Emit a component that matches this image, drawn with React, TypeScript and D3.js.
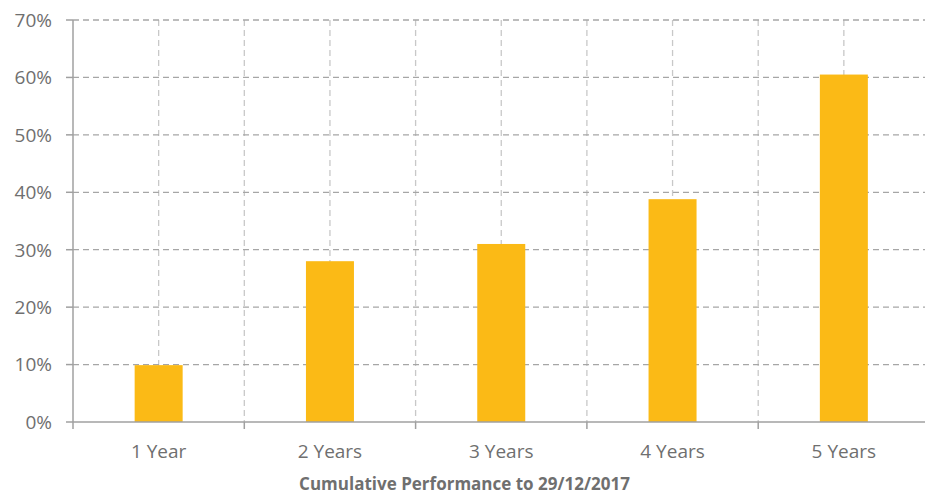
import React, { useEffect, useRef } from "react";
import * as d3 from "d3";

const categories = ["1 Year", "2 Years", "3 Years", "4 Years", "5 Years"];
const values = [9.9, 28.0, 31.0, 38.8, 60.5];
const yTicks = [0, 10, 20, 30, 40, 50, 60, 70];
const xTitle = "Cumulative Performance to 29/12/2017";

const W = 925;
const H = 494;
const margin = { left: 73, top: 20, right: -4.5, bottom: 72 };

export default function App() {
  const ref = useRef<SVGSVGElement>(null);

  useEffect(() => {
    const svg = d3.select(ref.current);
    svg.selectAll("*").remove();
    const x0 = margin.left;
    const x1 = W - margin.right;
    const y0 = H - margin.bottom;
    const y1 = margin.top;

    const x = d3.scaleBand<string>().domain(categories).range([x0, x1]).paddingInner(0).paddingOuter(0);
    const y = d3.scaleLinear().domain([0, 70]).range([y0, y1]);
    const bw = 48;
    const font = "'Open Sans', 'Noto Sans', sans-serif";

    const g = svg.append("g");

    // vertical grid: centers and boundaries
    const vx: number[] = [];
    categories.forEach((c, i) => {
      if (i > 0) vx.push(x(c)!);
      vx.push(x(c)! + x.bandwidth() / 2);
    });
    vx.push(x1);
    g.selectAll("line.vg")
      .data(vx)
      .enter()
      .append("line")
      .attr("x1", (d) => d)
      .attr("x2", (d) => d)
      .attr("y1", y(70))
      .attr("y2", y(0))
      .attr("stroke", "#c8c8c8")
      .attr("stroke-width", 1.3)
      .attr("stroke-dasharray", "6,4");

    // horizontal grid
    g.selectAll("line.hg")
      .data(yTicks.filter((t) => t > 0))
      .enter()
      .append("line")
      .attr("x1", x0)
      .attr("x2", x1)
      .attr("y1", (d) => y(d))
      .attr("y2", (d) => y(d))
      .attr("stroke", "#a6a6a6")
      .attr("stroke-width", 1.3)
      .attr("stroke-dasharray", "6,4");

    // bars
    g.selectAll("rect.bar")
      .data(values)
      .enter()
      .append("rect")
      .attr("x", (_, i) => x(categories[i])! + x.bandwidth() / 2 - bw / 2)
      .attr("width", bw)
      .attr("y", (d) => y(d))
      .attr("height", (d) => y(0) - y(d))
      .attr("fill", "#fbba16");

    // y axis
    g.append("line")
      .attr("x1", x0)
      .attr("x2", x0)
      .attr("y1", y(70))
      .attr("y2", y(0))
      .attr("stroke", "#a0a0a0")
      .attr("stroke-width", 1.5);
    g.selectAll("line.yt")
      .data(yTicks)
      .enter()
      .append("line")
      .attr("x1", x0 - 7)
      .attr("x2", x0)
      .attr("y1", (d) => y(d))
      .attr("y2", (d) => y(d))
      .attr("stroke", "#a0a0a0")
      .attr("stroke-width", 1.5);
    g.selectAll("text.yl")
      .data(yTicks)
      .enter()
      .append("text")
      .attr("x", 52)
      .attr("y", (d) => y(d))
      .attr("dy", "0.36em")
      .attr("text-anchor", "end")
      .attr("font-family", font)
      .attr("font-size", 19)
      .attr("fill", "#6f6f6f")
      .text((d) => `${d}%`);

    // x axis
    g.append("line")
      .attr("x1", x0)
      .attr("x2", x1)
      .attr("y1", y(0))
      .attr("y2", y(0))
      .attr("stroke", "#a0a0a0")
      .attr("stroke-width", 1.5);
    const bx = categories.map((c) => x(c)!).concat([x1]);
    g.selectAll("line.xt")
      .data(bx)
      .enter()
      .append("line")
      .attr("x1", (d) => d)
      .attr("x2", (d) => d)
      .attr("y1", y(0))
      .attr("y2", y(0) + 7)
      .attr("stroke", "#a0a0a0")
      .attr("stroke-width", 1.5);
    g.selectAll("text.xl")
      .data(categories)
      .enter()
      .append("text")
      .attr("x", (d) => x(d)! + x.bandwidth() / 2)
      .attr("y", 458)
      .attr("text-anchor", "middle")
      .attr("font-family", font)
      .attr("font-size", 19)
      .attr("fill", "#6f6f6f")
      .text((d) => d);

    g.append("text")
      .attr("x", 464.5)
      .attr("y", 490)
      .attr("text-anchor", "middle")
      .attr("font-family", font)
      .attr("font-size", 17)
      .attr("font-weight", 700)
      .attr("fill", "#6f6f6f")
      .text(xTitle);
  }, []);

  return (
    <svg
      ref={ref}
      width={W}
      height={H}
      style={{ position: "absolute", left: 0, top: 0, display: "block" }}
    />
  );
}
